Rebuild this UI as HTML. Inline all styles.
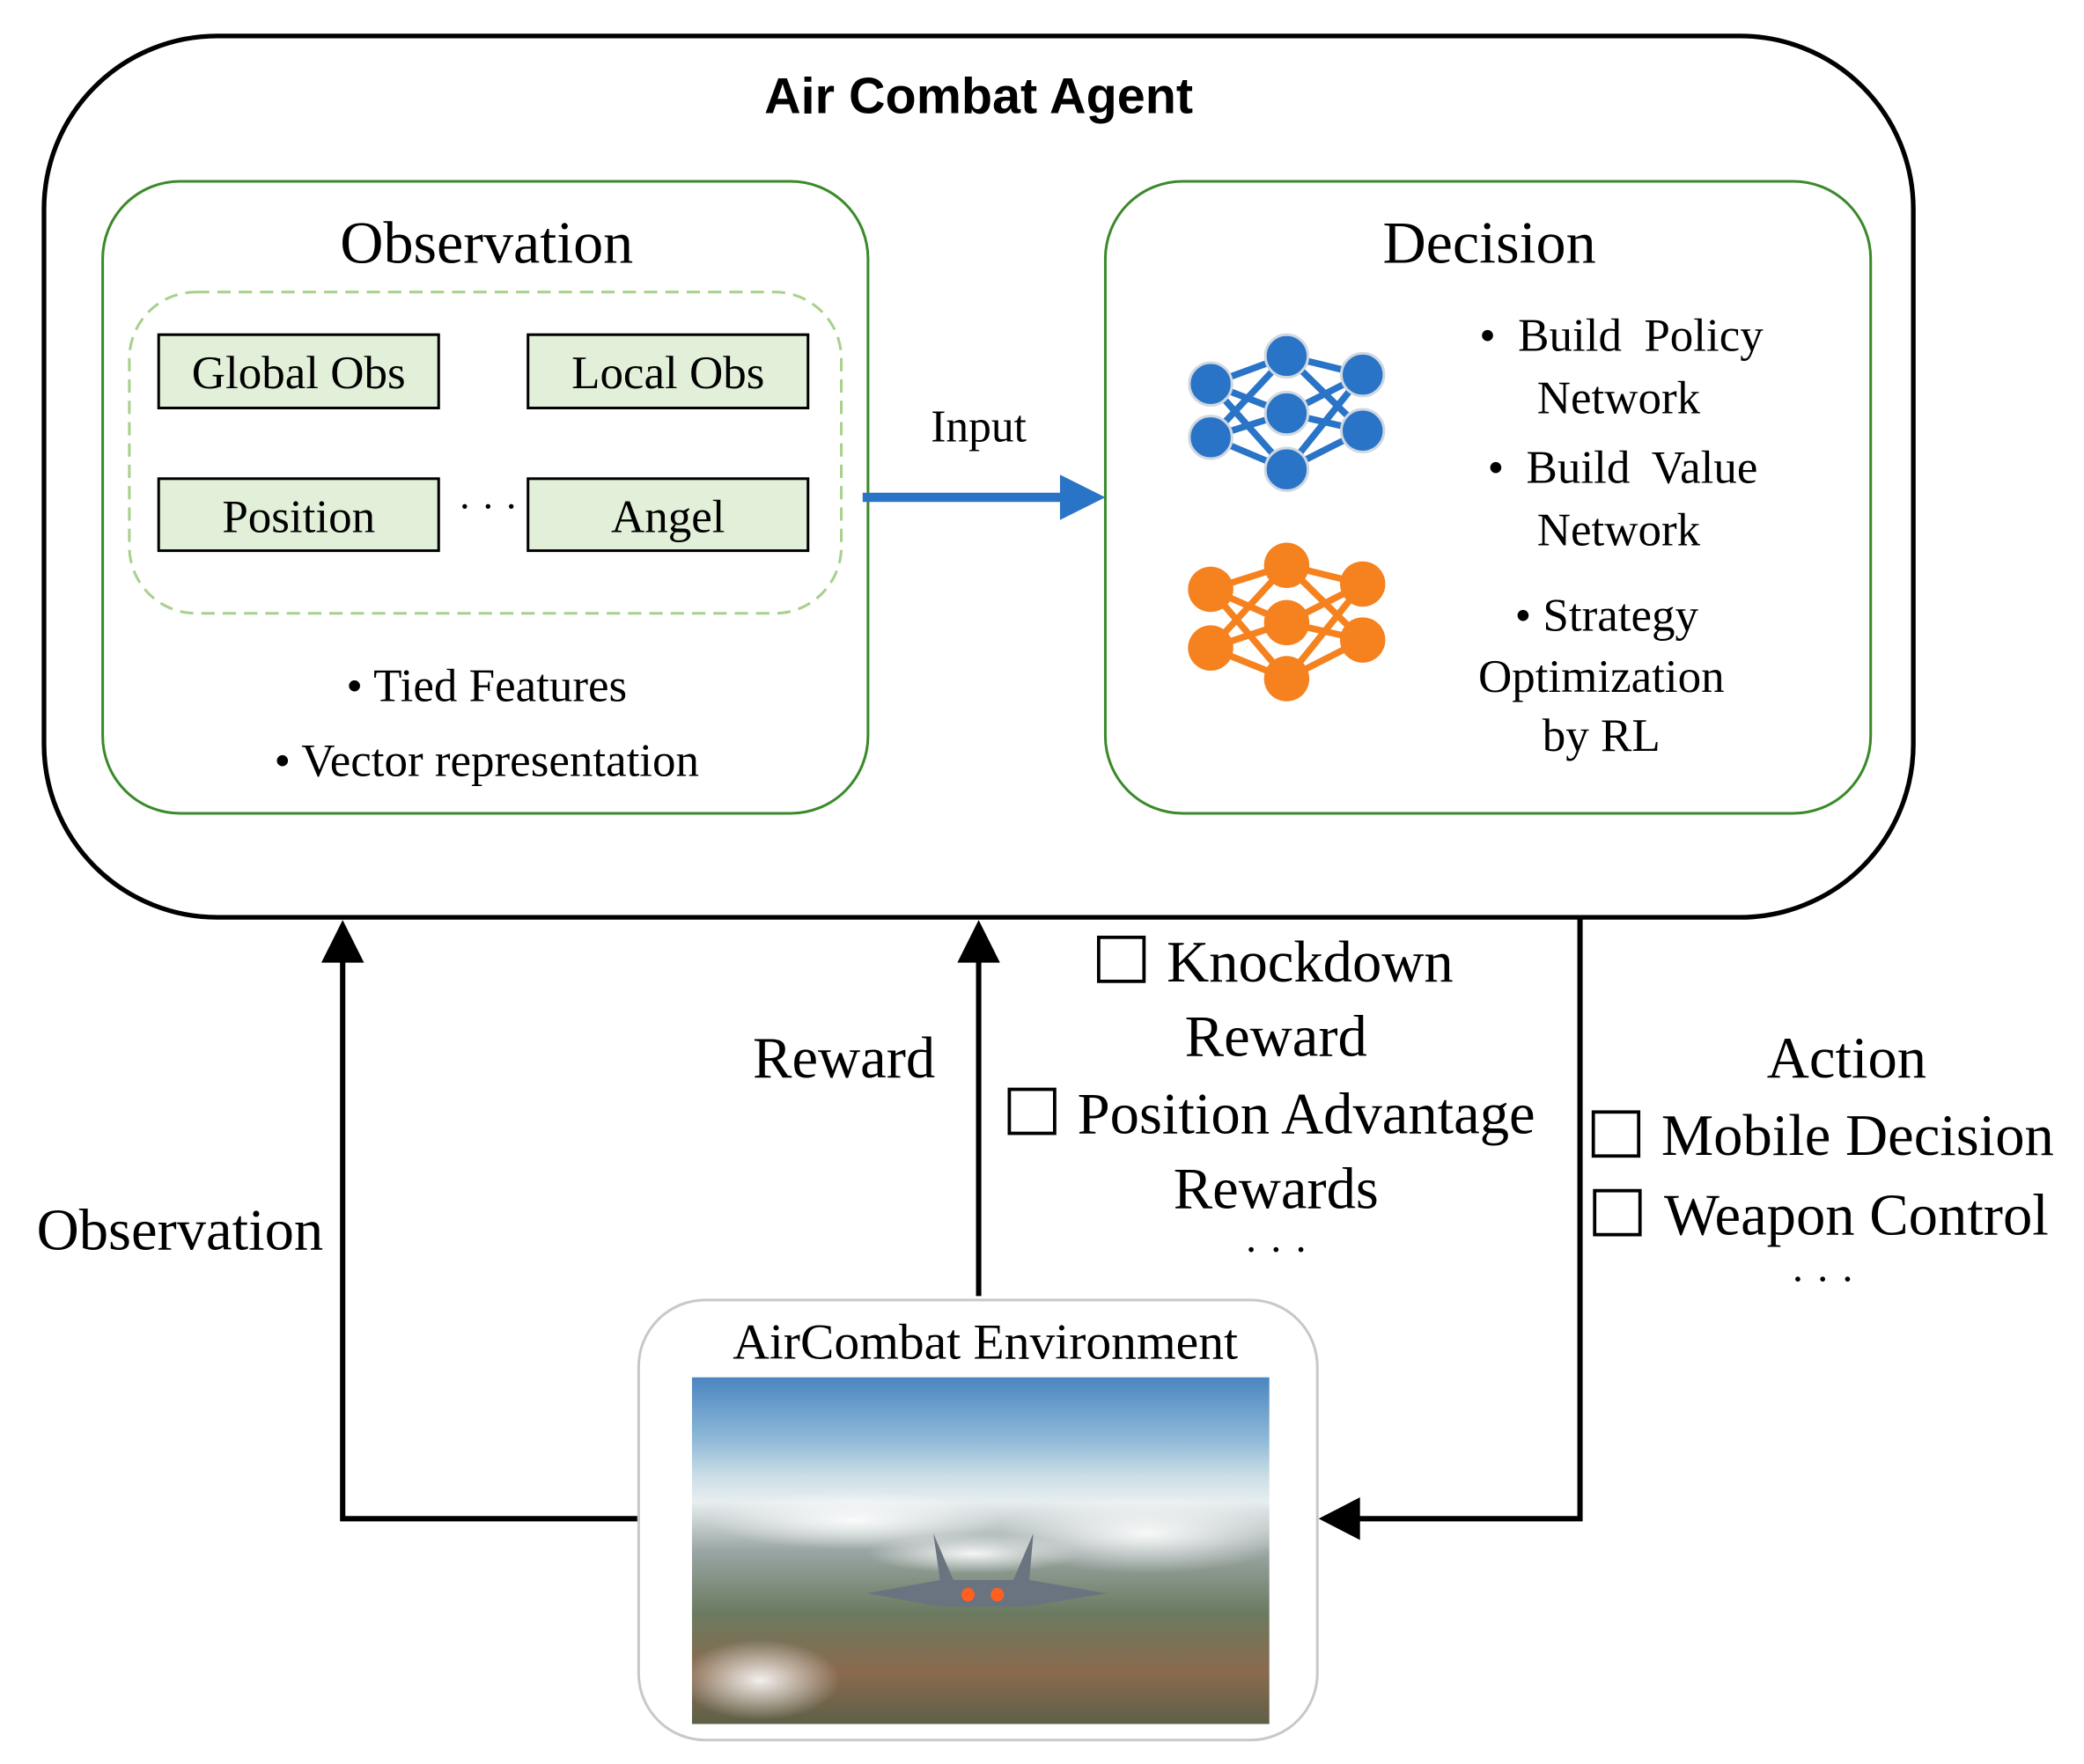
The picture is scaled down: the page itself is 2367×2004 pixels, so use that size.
<!DOCTYPE html>
<html><head><meta charset="utf-8"><style>
html,body{margin:0;padding:0;background:#fff}
svg{display:block}
text{font-family:"Liberation Serif",serif;fill:#000}
</style></head><body>
<svg width="2367" height="2004" viewBox="0 0 1563 1323" preserveAspectRatio="none" xmlns="http://www.w3.org/2000/svg">
<defs>
<linearGradient id="sky" x1="0" y1="0" x2="0" y2="1">
<stop offset="0" stop-color="#4a86c0"/><stop offset="0.18" stop-color="#8fb9d8"/><stop offset="0.28" stop-color="#c9dce6"/>
<stop offset="0.36" stop-color="#e8eef0"/><stop offset="0.5" stop-color="#9aa6a4"/><stop offset="0.68" stop-color="#6b7a60"/>
<stop offset="0.85" stop-color="#8a6a4e"/><stop offset="1" stop-color="#5e6048"/></linearGradient>
<radialGradient id="cl" cx="0.5" cy="0.5" r="0.5"><stop offset="0" stop-color="#fff" stop-opacity="0.9"/><stop offset="1" stop-color="#fff" stop-opacity="0"/></radialGradient>
</defs>
<rect x="33" y="27" width="1402" height="661" rx="130" fill="none" stroke="#000" stroke-width="3.5"/>
<text x="734" y="85" text-anchor="middle" font-size="38" font-weight="bold" style="font-family:'Liberation Sans',sans-serif">Air Combat Agent</text>
<rect x="77" y="136" width="574" height="474" rx="58" fill="none" stroke="#3a8a2a" stroke-width="2"/>
<text x="365" y="197" text-anchor="middle" font-size="45">Observation</text>
<rect x="97" y="219" width="534" height="241" rx="50" fill="none" stroke="#a8d08d" stroke-width="2" stroke-dasharray="10,6"/>
<g fill="#e2efd9" stroke="#000" stroke-width="2">
<rect x="119" y="251" width="210" height="55"/><rect x="396" y="251" width="210" height="55"/>
<rect x="119" y="359" width="210" height="54"/><rect x="396" y="359" width="210" height="54"/></g>
<g font-size="35" text-anchor="middle">
<text x="224" y="291">Global Obs</text><text x="501" y="291">Local Obs</text>
<text x="224" y="399">Position</text><text x="501" y="399">Angel</text>
<text x="366" y="390" font-size="30">· · ·</text>
<text x="365" y="526">• Tied Features</text>
<text x="365" y="582">• Vector representation</text>
</g>
<line x1="647" y1="373" x2="798" y2="373" stroke="#2a74c8" stroke-width="7"/>
<polygon points="795,356 829,373 795,390" fill="#2a74c8"/>
<text x="734" y="331" text-anchor="middle" font-size="34">Input</text>
<rect x="829" y="136" width="574" height="474" rx="58" fill="none" stroke="#3a8a2a" stroke-width="2"/>
<text x="1117" y="197" text-anchor="middle" font-size="45">Decision</text>
<g stroke="#2a74c8" stroke-width="5" fill="none">
<path d="M908 288 L965 267 M908 288 L965 310 M908 288 L965 352 M908 328 L965 267 M908 328 L965 310 M908 328 L965 352 M965 267 L1022 281 M965 267 L1022 323 M965 310 L1022 281 M965 310 L1022 323 M965 352 L1022 281 M965 352 L1022 323"/></g>
<g fill="#2a74c8" stroke="#d0d8e0" stroke-width="2">
<circle cx="908" cy="288" r="16"/><circle cx="908" cy="328" r="16"/><circle cx="965" cy="267" r="16"/><circle cx="965" cy="310" r="16"/><circle cx="965" cy="352" r="16"/><circle cx="1022" cy="281" r="16"/><circle cx="1022" cy="323" r="16"/></g>
<g stroke="#f5821f" stroke-width="5" fill="none">
<path d="M908 442 L965 424 M908 442 L965 467 M908 442 L965 509 M908 486 L965 424 M908 486 L965 467 M908 486 L965 509 M965 424 L1022 438 M965 424 L1022 480 M965 467 L1022 438 M965 467 L1022 480 M965 509 L1022 438 M965 509 L1022 480"/></g>
<g fill="#f5821f">
<circle cx="908" cy="442" r="17"/><circle cx="908" cy="486" r="17"/><circle cx="965" cy="424" r="17"/><circle cx="965" cy="467" r="17"/><circle cx="965" cy="509" r="17"/><circle cx="1022" cy="438" r="17"/><circle cx="1022" cy="480" r="17"/></g>
<g font-size="35" text-anchor="middle">
<text x="1216" y="263" word-spacing="8">• Build  Policy</text><text x="1214" y="310">Network</text>
<text x="1217" y="362" word-spacing="8">• Build  Value</text><text x="1214" y="409">Network</text>
<text x="1205" y="473">• Strategy</text><text x="1201" y="519">Optimization</text><text x="1201" y="563">by RL</text>
</g>
<g stroke="#000" stroke-width="4" fill="none">
<polyline points="478,1139 257,1139 257,718"/>
<line x1="734" y1="972" x2="734" y2="718"/>
<polyline points="1185,688 1185,1139 1018,1139"/>
</g>
<polygon points="241,722 257,690 273,722" fill="#000"/>
<polygon points="718,722 734,690 750,722" fill="#000"/>
<polygon points="1020,1123 989,1139 1020,1155" fill="#000"/>
<g font-size="44">
<text x="135" y="937" text-anchor="middle">Observation</text>
<text x="633" y="808" text-anchor="middle">Reward</text>
<text x="875" y="736">Knockdown</text>
<text x="957" y="792" text-anchor="middle">Reward</text>
<text x="808" y="850">Position Advantage</text>
<text x="957" y="906" text-anchor="middle">Rewards</text>
<text x="957" y="948" text-anchor="middle" font-size="32">· · ·</text>
<text x="1385" y="808" text-anchor="middle">Action</text>
<text x="1246" y="866">Mobile Decision</text>
<text x="1248" y="926">Weapon Control</text>
<text x="1367" y="970" text-anchor="middle" font-size="32">· · ·</text>
</g>
<g fill="none" stroke="#000" stroke-width="2.5">
<rect x="824" y="703" width="34" height="33"/><rect x="757" y="817" width="34" height="33"/>
<rect x="1195" y="834" width="34" height="33"/><rect x="1196" y="893" width="34" height="33"/></g>
<rect x="479" y="975" width="509" height="330" rx="50" fill="#fff" stroke="#c8c8c8" stroke-width="2"/>
<text x="739" y="1019" text-anchor="middle" font-size="38">AirCombat Environment</text>
<rect x="519" y="1033" width="433" height="260" fill="url(#sky)"/>
<ellipse cx="640" cy="1140" rx="110" ry="22" fill="url(#cl)"/>
<ellipse cx="860" cy="1150" rx="110" ry="30" fill="url(#cl)"/>
<ellipse cx="730" cy="1165" rx="80" ry="15" fill="url(#cl)"/>
<ellipse cx="570" cy="1260" rx="60" ry="30" fill="url(#cl)"/>
<polygon points="650,1195 705,1185 700,1150 715,1185 760,1185 775,1150 772,1185 830,1195 770,1205 705,1205" fill="#6a7480"/>
<circle cx="726" cy="1196" r="5" fill="#ff6020"/><circle cx="748" cy="1196" r="5" fill="#ff6020"/>
</svg>
</body></html>
